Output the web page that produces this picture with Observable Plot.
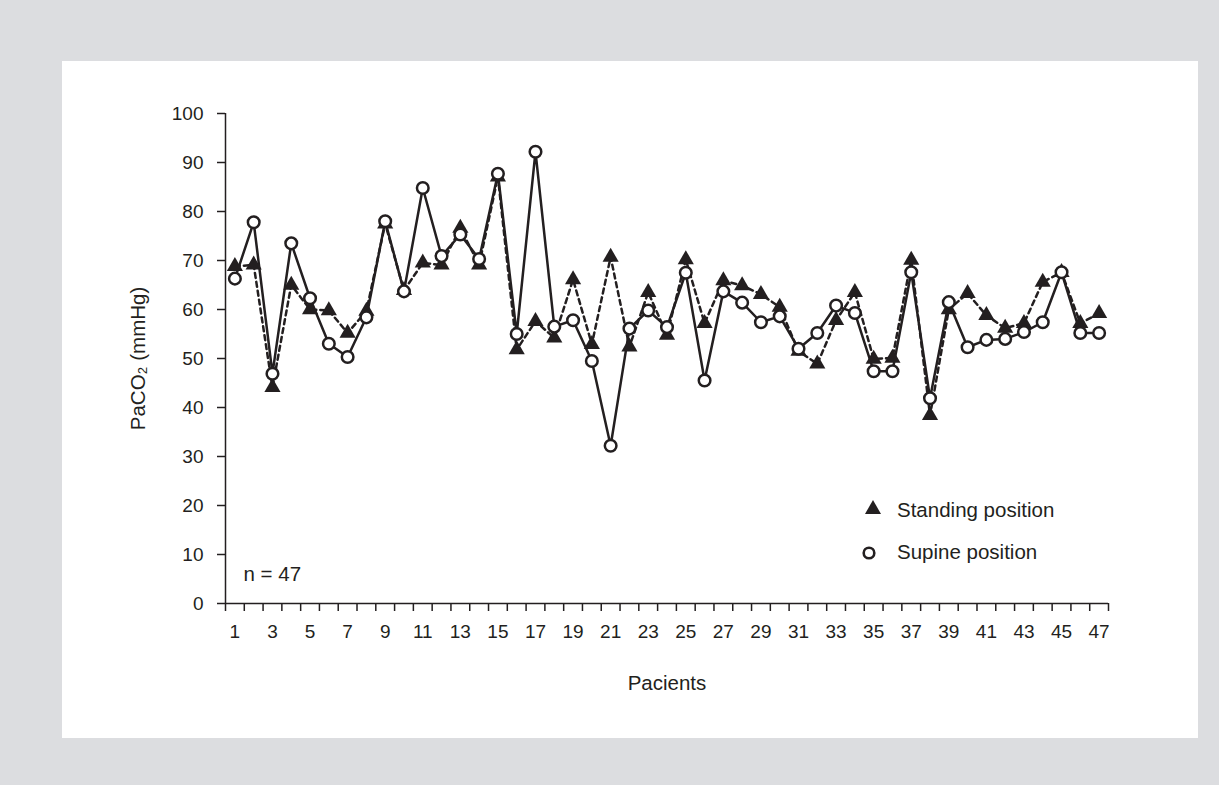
<!DOCTYPE html>
<html>
<head>
<meta charset="utf-8">
<script src="https://cdn.jsdelivr.net/npm/d3@7"></script>
<script src="https://cdn.jsdelivr.net/npm/@observablehq/plot@0.6"></script>
<style>
  html, body { margin: 0; padding: 0; background: #dcdde0; }
  #wrap { position: relative; width: 1219px; height: 785px; overflow: hidden; }
  #panel { position: absolute; left: 62px; top: 61px; width: 1136px; height: 677px; background: #ffffff; }
  #chart { position: absolute; left: 0; top: 0; }
  .leg { position: absolute; font-family: "Liberation Sans", Arial, sans-serif; font-size: 20.5px; color: #231f20; line-height: 24px; white-space: nowrap; }
  .sym { position: absolute; }
</style>
</head>
<body>
<div id="wrap">
  <div id="panel"></div>
  <div id="chart"></div>
  <svg class="sym" style="left:864px;top:499px" width="20" height="18"><polygon points="9,1 17,15 1,15" fill="#231f20"/></svg>
  <div class="leg" style="left:897px;top:498px">Standing position</div>
  <svg class="sym" style="left:861px;top:545px" width="17" height="17"><circle cx="8" cy="8" r="5.3" fill="#fff" stroke="#231f20" stroke-width="2.6"/></svg>
  <div class="leg" style="left:897px;top:540px">Supine position</div>
</div>
<script>
const patients = d3.range(1, 48);
const standing = [68.8,69.1,44.1,65.0,60.0,59.8,55.2,59.7,77.5,63.9,69.5,69.1,76.6,69.1,87.1,51.8,57.6,54.2,66.1,52.9,70.7,52.4,63.5,54.8,70.2,57.2,65.9,64.9,63.1,60.5,51.5,48.9,57.8,63.5,49.9,50.1,70.1,38.4,60.0,63.3,58.8,56.2,57.2,65.6,67.6,57.2,59.2];
const supine = [66.3,77.8,46.9,73.5,62.3,53.0,50.3,58.4,78.0,63.7,84.8,70.9,75.3,70.3,87.7,55.0,92.2,56.5,57.8,49.5,32.2,56.1,59.8,56.4,67.5,45.5,63.7,61.4,57.4,58.6,52.0,55.2,60.8,59.3,47.4,47.4,67.6,41.9,61.5,52.3,53.8,54.0,55.4,57.4,67.6,55.2,55.2];
const yTicks = [0,10,20,30,40,50,60,70,80,90,100];
const xLabels = patients.filter(p => p % 2 === 1);

const dataStanding = patients.map((p, i) => ({patient: p, value: standing[i]}));
const dataSupine = patients.map((p, i) => ({patient: p, value: supine[i]}));
const boundaries = [0, ...patients].map(p => p + 0.5);

const ink = "#231f20";
const font = "'Liberation Sans', Arial, sans-serif";

const chart = Plot.plot({
  width: 1219,
  height: 785,
  marginLeft: 225,
  marginRight: 111,
  marginTop: 113,
  marginBottom: 182,
  style: {fontFamily: font, fontSize: "19px", color: ink, background: "transparent", overflow: "visible"},
  x: {type: "linear", domain: [0.5, 47.5]},
  y: {domain: [0, 100]},
  marks: [
    Plot.axisY({ticks: yTicks, tickSize: 8, tickPadding: 14, fontSize: 19, label: null, stroke: ink, strokeWidth: 1.5, fill: ink}),
    Plot.axisX({ticks: boundaries, tickSize: 8, tickFormat: () => "", label: null, stroke: ink, strokeWidth: 1.5}),
    Plot.axisX({ticks: xLabels, tickSize: 0, tickPadding: 21, fontSize: 19, label: null, fill: ink}),
    Plot.ruleX([0.5], {stroke: ink, strokeWidth: 1.5}),
    Plot.ruleY([0], {stroke: ink, strokeWidth: 1.5}),
    Plot.text(["PaCO₂ (mmHg)"], {frameAnchor: "left", textAnchor: "middle", lineAnchor: "middle", rotate: -90, dx: -87, fontSize: 20.5, fill: ink}),
    Plot.text(["Pacients"], {frameAnchor: "bottom", dy: 80, lineAnchor: "middle", fontSize: 20.5, fill: ink}),
    Plot.text(["n = 47"], {frameAnchor: "bottom-left", dx: 18, dy: -29, textAnchor: "start", lineAnchor: "middle", fontSize: 20.5, fill: ink}),
    Plot.line(dataStanding, {x: "patient", y: "value", stroke: ink, strokeWidth: 2.5, strokeDasharray: "5,4"}),
    Plot.line(dataSupine, {x: "patient", y: "value", stroke: ink, strokeWidth: 2.5}),
    Plot.dot(dataStanding, {x: "patient", y: "value", symbol: "triangle", r: 6, fill: ink, stroke: "none"}),
    Plot.dot(dataSupine, {x: "patient", y: "value", symbol: "circle", r: 5.8, fill: "#fff", stroke: ink, strokeWidth: 2.5})
  ]
});
document.getElementById("chart").appendChild(chart);
</script>
</body>
</html>
